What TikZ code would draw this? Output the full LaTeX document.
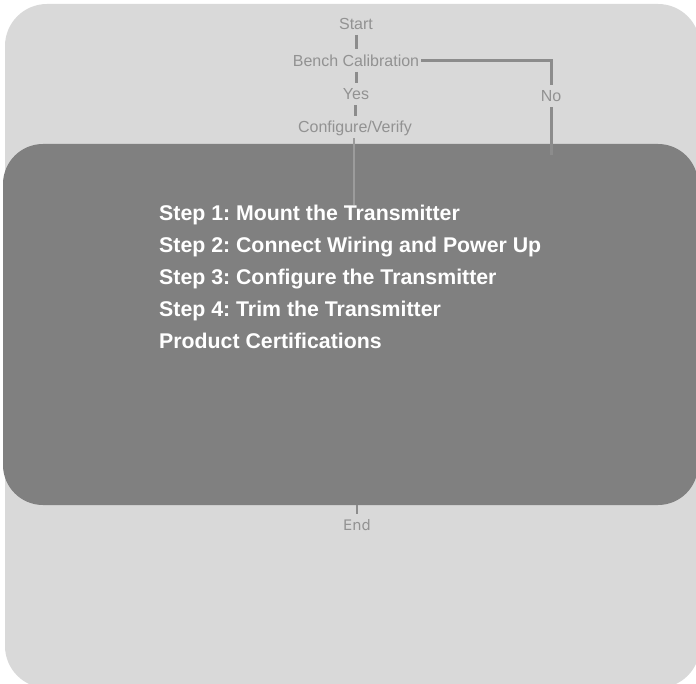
\documentclass[tikz,border=0pt]{standalone}
\usepackage{fontspec}
\setmainfont{Liberation Sans}
\newfontfamily\endfont{DejaVu Sans}
\usetikzlibrary{positioning, calc}
\definecolor{PanelGray}{HTML}{D9D9D9}
\definecolor{BodyGray}{HTML}{808080}
\definecolor{LineGray}{HTML}{8C8C8C}
\definecolor{LabelGray}{HTML}{929292}
\definecolor{InnerLine}{HTML}{9C9C9C}
\frenchspacing

\begin{document}
\begin{tikzpicture}[
    x=1pt, y=-1pt,
    panel/.style={
        fill=PanelGray,
        draw=none,
        rounded corners=42pt
    },
    body/.style={
        fill=BodyGray,
        draw=none,
        rounded corners=40pt,
        minimum width=695pt,
        minimum height=361pt,
        inner sep=0pt
    },
    flow/.style={
        font=\fontsize{16}{18}\selectfont,
        text=LabelGray,
        text height=11.5pt,
        text depth=0pt,
        inner xsep=2pt,
        inner ysep=5.5pt
    },
    stepitem/.style={
        font=\fontsize{21.3}{24}\selectfont\bfseries,
        text=white,
        text height=15pt,
        text depth=0pt,
        anchor=west,
        inner sep=0pt
    },
    link/.style={
        draw=LineGray,
        line width=3pt
    }
]

\useasboundingbox (0,0) rectangle (696,684);
\fill[panel] (5,4) rectangle (700,688);

\node[body] (body) at (350.5,324.5) {};

\node[flow] (start) at (356,23.5) {Start};
\node[flow] (bench) at (356,60.5) {Bench Calibration};
\node[flow] (yes) at (356,94) {Yes};
\node[flow] (no) at (551,96) {No};
\node[flow] (config) at (355,127) {Configure/Verify};
\node[flow, font=\endfont\fontsize{14.5}{16}\selectfont, text height=10.6pt] (finish) at (357,525) {End};

\coordinate (cfgend) at (354,205);
\coordinate (noend) at (551,155);

\path[link] (start) -- (bench);
\path[link] (bench) -- (yes);
\path[link] (yes.south -| config) -- (config);
\path[link] (bench.east) -| (no);
\path[link] (no) -- (noend);
\path[link, draw=InnerLine, line width=2pt] (config.south -| cfgend) -- (cfgend);
\path[link, line width=2pt] (body.south -| finish) -- (finish);

\node[stepitem] (s1) at (159,213) {Step 1: Mount the Transmitter};
\node[stepitem] (s2) at (159,245) {Step 2: Connect Wiring and Power Up};
\node[stepitem] (s3) at (159,277) {Step 3: Configure the Transmitter};
\node[stepitem] (s4) at (159,309) {Step 4: Trim the Transmitter};
\node[stepitem] (certs) at (159,341) {Product Certifications};

\end{tikzpicture}
\end{document}
